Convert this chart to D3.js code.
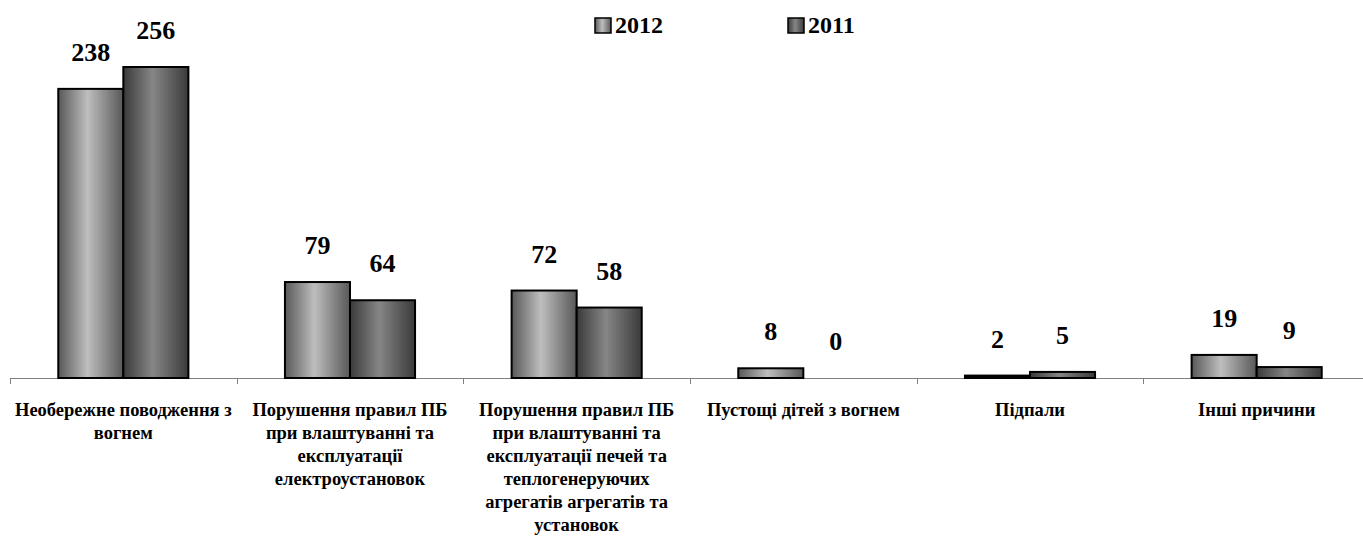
<!DOCTYPE html>
<html>
<head>
<meta charset="utf-8">
<script src="https://cdn.jsdelivr.net/npm/d3@7"></script>
<style>
  body { margin: 0; background: #fff; }
  text { font-family: "Liberation Serif", serif; font-weight: bold; }
</style>
</head>
<body>
<svg id="chart"></svg>
<script>
// data
var categories = [
  "Необережне поводження з\nвогнем",
  "Порушення правил ПБ\nпри влаштуванні та\nексплуатації\nелектроустановок",
  "Порушення правил ПБ\nпри влаштуванні та\nексплуатації печей та\nтеплогенеруючих\nагрегатів агрегатів та\nустановок",
  "Пустощі дітей з вогнем",
  "Підпали",
  "Інші причини"
];
var years = ["2012", "2011"];
var values2012 = [238, 79, 72, 8, 2, 19];
var values2011 = [256, 64, 58, 0, 5, 9];

var svgWidth = 1363, svgHeight = 538;
var baseY = 378, topY = 67, left = 10, right = 1370;

var svg = d3.select("#chart")
  .attr("width", svgWidth)
  .attr("height", svgHeight);

// gradients (dark edges, light center)
var defs = svg.append("defs");
var grads = [
  {id: "g2012", edge: "#585858", mid: "#bebebe"},
  {id: "g2011", edge: "#3a3a3a", mid: "#868686"}
];
grads.forEach(function(g){
  var lg = defs.append("linearGradient")
    .attr("id", g.id)
    .attr("x1", "0").attr("x2", "1").attr("y1", "0").attr("y2", "0");
  lg.append("stop").attr("offset", "0%").attr("stop-color", g.edge);
  lg.append("stop").attr("offset", "45%").attr("stop-color", g.mid);
  lg.append("stop").attr("offset", "100%").attr("stop-color", g.edge);
});

var x0 = d3.scaleBand()
  .domain(categories)
  .range([left, right])
  .paddingInner(0.426)
  .paddingOuter(0.213);

var x1 = d3.scaleBand()
  .domain(years)
  .range([0, x0.bandwidth()]);

var y = d3.scaleLinear()
  .domain([0, 256])
  .range([baseY, topY]);

var rows = categories.map(function(c, i){
  return {cat: c, vals: [
    {year: "2012", v: values2012[i]},
    {year: "2011", v: values2011[i]}
  ]};
});

// axis line with ticks between categories
var step = x0.step();
svg.append("line")
  .attr("x1", left).attr("x2", svgWidth)
  .attr("y1", baseY + 0.5).attr("y2", baseY + 0.5)
  .attr("stroke", "#808080").attr("stroke-width", 1);

svg.selectAll(".tick")
  .data(d3.range(categories.length + 1))
  .enter()
  .append("line")
  .attr("x1", function(i){ return Math.round(left + i * step) + 0.5; })
  .attr("x2", function(i){ return Math.round(left + i * step) + 0.5; })
  .attr("y1", baseY).attr("y2", baseY + 6)
  .attr("stroke", "#808080");

var groups = svg.selectAll(".grp")
  .data(rows)
  .enter()
  .append("g")
  .attr("transform", function(d){ return "translate(" + x0(d.cat) + ",0)"; });

groups.selectAll("rect")
  .data(function(d){ return d.vals; })
  .enter()
  .append("rect")
  .attr("x", function(d){ return x1(d.year); })
  .attr("width", x1.bandwidth())
  .attr("y", function(d){ return y(d.v); })
  .attr("height", function(d){ return baseY - y(d.v); })
  .attr("fill", function(d){ return d.v > 2 ? "url(#g" + d.year + ")" : "#000"; })
  .attr("stroke", "#000")
  .attr("stroke-width", 2)
  .style("display", function(d){ return d.v === 0 ? "none" : null; });

groups.selectAll("text")
  .data(function(d){ return d.vals; })
  .enter()
  .append("text")
  .attr("x", function(d){ return x1(d.year) + x1.bandwidth() / 2; })
  .attr("y", function(d){ return y(d.v) - 28; })
  .attr("text-anchor", "middle")
  .attr("font-size", "26px")
  .text(function(d){ return d.v; });

// category labels, one tspan per line
var labels = svg.selectAll(".cat")
  .data(categories)
  .enter()
  .append("text")
  .attr("text-anchor", "middle")
  .attr("font-size", "18.5px")
  .attr("x", function(d){ return x0(d) + x0.bandwidth() / 2; })
  .attr("y", 416);

labels.each(function(d){
  var t = d3.select(this);
  var cx = +t.attr("x");
  d.split("\n").forEach(function(s, i){
    t.append("tspan").attr("x", cx).attr("dy", i ? 23 : 0).text(s);
  });
});

// legend
var legendX = [595, 788];
var legend = svg.selectAll(".leg")
  .data(years)
  .enter()
  .append("g")
  .attr("transform", function(d, i){ return "translate(" + legendX[i] + ",18)"; });

legend.append("rect")
  .attr("width", 16).attr("height", 15)
  .attr("fill", function(d){ return "url(#g" + d + ")"; })
  .attr("stroke", "#000").attr("stroke-width", 1.5);

legend.append("text")
  .attr("x", 20).attr("y", 15)
  .attr("font-size", "24px")
  .text(function(d){ return d; });
</script>
</body>
</html>
